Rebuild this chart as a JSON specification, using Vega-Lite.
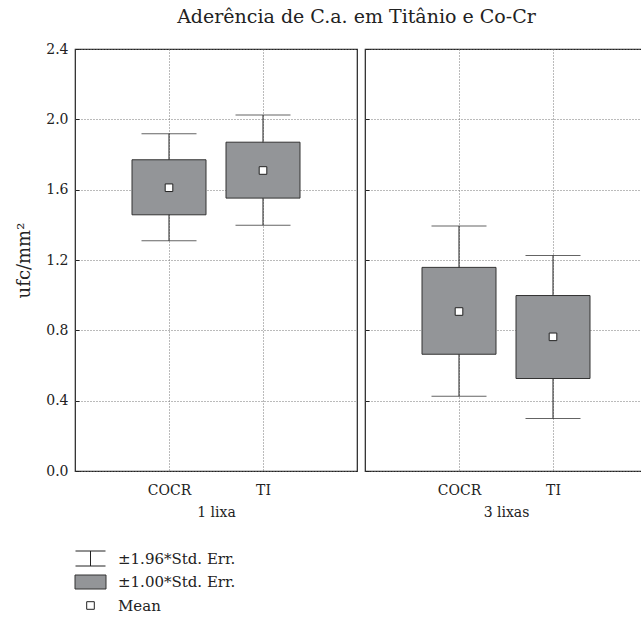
{
  "$schema": "https://vega.github.io/schema/vega-lite/v6.json",
  "padding": {"left": 15, "top": 8, "right": 0, "bottom": 0},
  "background": "white",
  "title": {"text": "Aderência de C.a. em Titânio e Co-Cr", "font": "DejaVu Serif", "fontSize": 19, "fontWeight": "normal", "color": "#222", "anchor": "start", "dx": 162, "offset": 14},
  "config": {
    "font": "DejaVu Serif",
    "view": {"stroke": "#222", "strokeWidth": 1.2},
    "axis": {"labelFont": "DejaVu Serif", "titleFont": "DejaVu Serif", "labelColor": "#222", "titleColor": "#222", "titleFontWeight": "normal"},
    "legend": {"labelFont": "DejaVu Serif", "labelFontSize": 15, "labelColor": "#222"}
  },
  "data": {"values": [
    {"lixa": "1 lixa", "material": "COCR", "mean": 1.611, "se_lo": 1.457, "se_hi": 1.770, "ci_lo": 1.309, "ci_hi": 1.918, "kind": "Mean"},
    {"lixa": "1 lixa", "material": "TI", "mean": 1.709, "se_lo": 1.552, "se_hi": 1.870, "ci_lo": 1.398, "ci_hi": 2.024, "kind": "Mean"},
    {"lixa": "3 lixas", "material": "COCR", "mean": 0.907, "se_lo": 0.664, "se_hi": 1.158, "ci_lo": 0.425, "ci_hi": 1.393, "kind": "Mean"},
    {"lixa": "3 lixas", "material": "TI", "mean": 0.763, "se_lo": 0.526, "se_hi": 0.998, "ci_lo": 0.299, "ci_hi": 1.226, "kind": "Mean"}
  ]},
  "spacing": 5,
  "resolve": {"scale": {"y": "shared", "fill": "shared", "shape": "shared", "stroke": "shared"}},
  "hconcat": [
    {
      "width": 282, "height": 422,
      "transform": [{"filter": "datum.lixa == '1 lixa'"}],
      "encoding": {"x": {"field": "material", "type": "nominal", "scale": {"type": "point", "padding": 1}, "axis": {"title": "1 lixa", "labelAngle": 0, "domain": false, "ticks": false, "grid": true, "gridDash": [1, 2], "gridColor": "#777", "labelFontSize": 14, "titleFontSize": 14, "labelPadding": 12, "titlePadding": 8}}},
      "layer": [
        {"mark": {"type": "rule", "color": "#222", "strokeWidth": 1},
         "encoding": {"y": {"field": "ci_lo", "type": "quantitative", "title": "ufc/mm²", "scale": {"domain": [0, 2.4], "nice": false, "zero": false},
           "axis": {"values": [0, 0.1, 0.2, 0.3, 0.4, 0.5, 0.6, 0.7, 0.8, 0.9, 1.0, 1.1, 1.2, 1.3, 1.4, 1.5, 1.6, 1.7, 1.8, 1.9, 2.0, 2.1, 2.2, 2.3, 2.4],
             "labelExpr": "round(datum.value*10)%4==0 ? format(datum.value,'.1f') : ''", "domain": false, "tickSize": -4, "tickColor": "#222", "labelPadding": 11, "labelFontSize": 14, "titleFontSize": 18, "titlePadding": 12,
             "grid": true, "gridDash": [1, 2], "gridColor": "#777", "gridOpacity": {"condition": {"test": "round(datum.value*10)%4==0", "value": 1}, "value": 0}}},
           "y2": {"field": "ci_hi"}}},
        {"mark": {"type": "tick", "orient": "horizontal", "size": 55, "thickness": 1, "color": "#222"},
         "encoding": {"y": {"field": "ci_hi", "type": "quantitative", "title": "ufc/mm²"}}},
        {"mark": {"type": "tick", "orient": "horizontal", "size": 55, "thickness": 1, "color": "#222"},
         "encoding": {"y": {"field": "ci_lo", "type": "quantitative", "title": "ufc/mm²"}}},
        {"mark": {"type": "bar", "size": 74, "fill": "#939598", "stroke": "#333", "strokeWidth": 1},
         "encoding": {"y": {"field": "se_lo", "type": "quantitative", "title": "ufc/mm²"}, "y2": {"field": "se_hi"}}},
        {"mark": {"type": "point", "filled": true, "size": 400, "strokeWidth": 1, "opacity": 1},
         "encoding": {"y": {"field": "mean", "type": "quantitative", "title": "ufc/mm²"},
           "shape": {"field": "kind", "type": "nominal", "scale": {"domain": ["±1.96*Std. Err.", "±1.00*Std. Err.", "Mean"], "range": ["M-1.5,-0.75H1.5M0,-0.75V0.75M-1.5,0.75H1.5", "M-1.55,-0.7H1.55V0.7H-1.55Z", "M-0.38,-0.38H0.38V0.38H-0.38Z"]},
             "legend": {"title": null, "orient": "none", "legendX": 5, "legendY": 499, "symbolSize": 400, "rowPadding": 3.5, "labelOffset": 17, "symbolStrokeWidth": 1, "labelFontSize": 15}},
           "fill": {"field": "kind", "type": "nominal", "scale": {"domain": ["±1.96*Std. Err.", "±1.00*Std. Err.", "Mean"], "range": ["white", "#939598", "white"]},
             "legend": {"title": null, "orient": "none", "legendX": 5, "legendY": 499, "symbolSize": 400, "rowPadding": 3.5, "labelOffset": 17, "symbolStrokeWidth": 1, "labelFontSize": 15}},
           "stroke": {"field": "kind", "type": "nominal", "scale": {"domain": ["±1.96*Std. Err.", "±1.00*Std. Err.", "Mean"], "range": ["#222", "#333", "#222"]},
             "legend": {"title": null, "orient": "none", "legendX": 5, "legendY": 499, "symbolSize": 400, "rowPadding": 3.5, "labelOffset": 17, "symbolStrokeWidth": 1, "labelFontSize": 15}}}}
      ]
    },
    {
      "width": 282, "height": 422,
      "transform": [{"filter": "datum.lixa == '3 lixas'"}],
      "encoding": {"x": {"field": "material", "type": "nominal", "scale": {"type": "point", "padding": 1}, "axis": {"title": "3 lixas", "labelAngle": 0, "domain": false, "ticks": false, "grid": true, "gridDash": [1, 2], "gridColor": "#777", "labelFontSize": 14, "titleFontSize": 14, "labelPadding": 12, "titlePadding": 8}}},
      "layer": [
        {"mark": {"type": "rule", "color": "#222", "strokeWidth": 1},
         "encoding": {"y": {"field": "ci_lo", "type": "quantitative", "title": null, "scale": {"domain": [0, 2.4], "nice": false, "zero": false},
           "axis": {"values": [0, 0.1, 0.2, 0.3, 0.4, 0.5, 0.6, 0.7, 0.8, 0.9, 1.0, 1.1, 1.2, 1.3, 1.4, 1.5, 1.6, 1.7, 1.8, 1.9, 2.0, 2.1, 2.2, 2.3, 2.4],
             "labels": false, "domain": false, "tickSize": -4, "tickColor": "#222",
             "grid": true, "gridDash": [1, 2], "gridColor": "#777", "gridOpacity": {"condition": {"test": "round(datum.value*10)%4==0", "value": 1}, "value": 0}}},
           "y2": {"field": "ci_hi"}}},
        {"mark": {"type": "tick", "orient": "horizontal", "size": 55, "thickness": 1, "color": "#222"},
         "encoding": {"y": {"field": "ci_hi", "type": "quantitative", "title": null}}},
        {"mark": {"type": "tick", "orient": "horizontal", "size": 55, "thickness": 1, "color": "#222"},
         "encoding": {"y": {"field": "ci_lo", "type": "quantitative", "title": null}}},
        {"mark": {"type": "bar", "size": 74, "fill": "#939598", "stroke": "#333", "strokeWidth": 1},
         "encoding": {"y": {"field": "se_lo", "type": "quantitative", "title": null}, "y2": {"field": "se_hi"}}},
        {"mark": {"type": "point", "filled": true, "size": 400, "strokeWidth": 1, "opacity": 1},
         "encoding": {"y": {"field": "mean", "type": "quantitative", "title": null},
           "shape": {"field": "kind", "type": "nominal", "legend": null},
           "fill": {"field": "kind", "type": "nominal", "legend": null},
           "stroke": {"field": "kind", "type": "nominal", "legend": null}}}
      ]
    }
  ]
}
